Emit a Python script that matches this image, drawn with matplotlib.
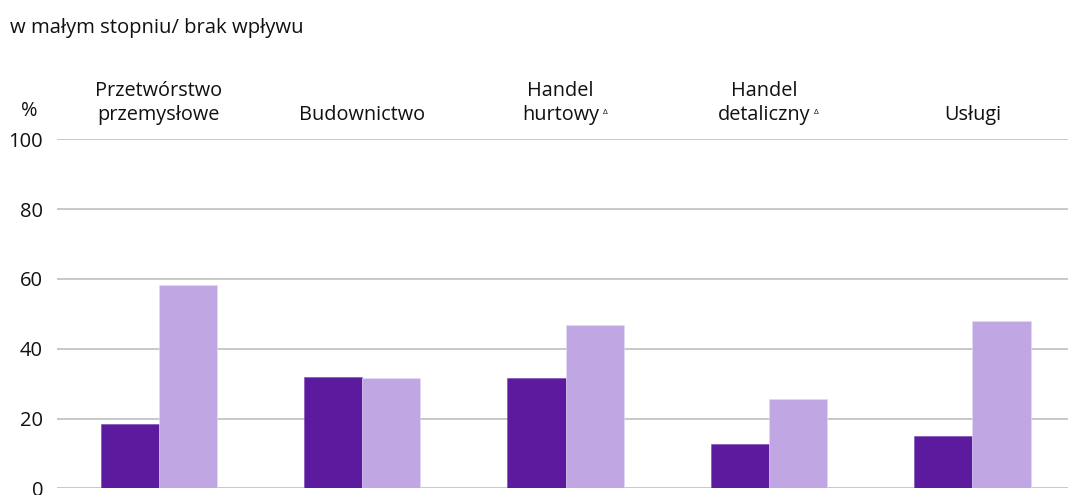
import matplotlib
matplotlib.use("Agg")
import matplotlib.pyplot as plt
import matplotlib.transforms as mtransforms
import numpy as np

plt.rcParams['font.family'] = ['Open Sans', 'DejaVu Sans']

categories = ["Przetwórstwo\nprzemysłowe", "Budownictwo", "Handel\nhurtowy",
              "Handel\ndetaliczny", "Usługi"]
footnote_mark = [False, False, True, True, False]
series_dark = [18.4, 31.9, 31.5, 12.7, 15.1]
series_light = [58.2, 31.7, 46.8, 25.7, 47.9]
yticks = [0, 20, 40, 60, 80, 100]
title = "w małym stopniu/ brak wpływu"

W, H = 1068, 495
fig = plt.figure(figsize=(W / 100, H / 100), dpi=100)
left, right = 57, 1068
bottom, top = 488.3, 139.3
ax = fig.add_axes([left / W, 1 - bottom / H, (right - left) / W, (bottom - top) / H])

x = np.arange(len(categories))
bw = 0.286
ax.bar(x - bw / 2, series_dark, width=bw, color="#5C1A9E", edgecolor="#7a4ab5", linewidth=0.4, zorder=3)
ax.bar(x + bw / 2, series_light, width=bw, color="#C0A6E3", edgecolor="#e6dcf5", linewidth=0.4, zorder=3)

ax.set_ylim(0, 100)
ax.set_xlim(-0.5, 4.47)
ax.set_yticks(yticks)
ax.yaxis.grid(True, color="#bfbfbf", linewidth=1.2, zorder=0)
ax.set_axisbelow(True)
for s in ax.spines.values():
    s.set_visible(False)
ax.set_xticks([])
ax.tick_params(axis='y', length=0, pad=10, labelsize=14.5, labelcolor="#111111")
for lbl in ax.get_yticklabels():
    lbl.set_horizontalalignment('right')

fs = 14.3
for i, c in enumerate(categories):
    if footnote_mark[i]:
        tr = ax.transData + mtransforms.ScaledTranslation(-5 / 100, 0, fig.dpi_scale_trans)
    else:
        tr = ax.transData
    t = ax.text(i, 105.6, c, ha='center', va='baseline', fontsize=fs, color="#111111",
                linespacing=1.22, transform=tr, clip_on=False)
    if footnote_mark[i]:
        ax.annotate("Δ", xy=(1, 0.0), xycoords=t, xytext=(4, 16), textcoords='offset pixels',
                    ha='left', va='top', fontsize=6, color="#111111")

fig.text(29 / W, 1 - 111 / H, "%", ha='center', va='center', fontsize=fs, color="#111111")
fig.text(10 / W, 1 - 33 / H, title, ha='left', va='baseline', fontsize=14.6, color="#111111")

fig.savefig("out.png", dpi=100)
